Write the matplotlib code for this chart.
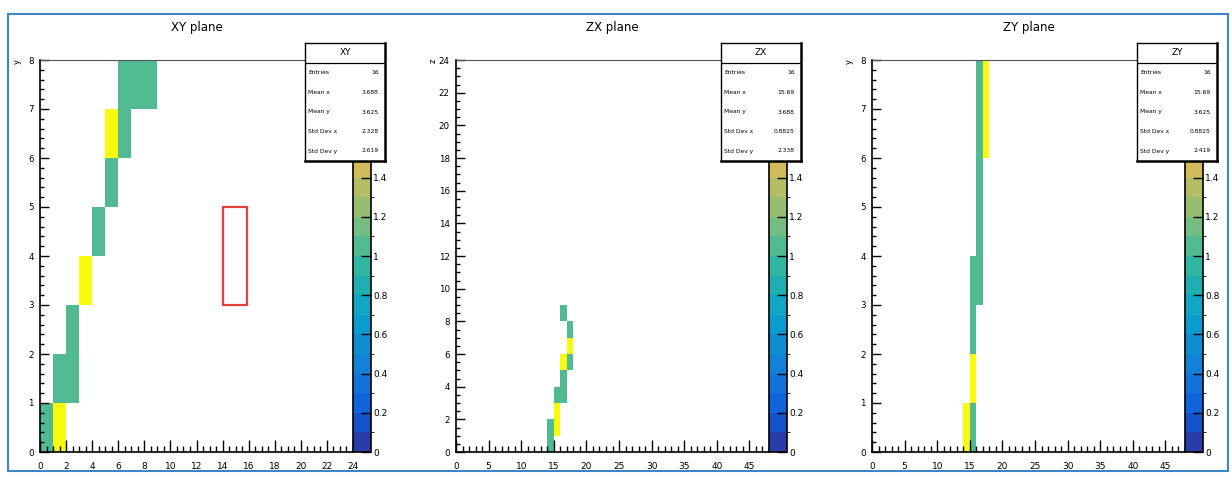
import numpy as np
import matplotlib.pyplot as plt
from matplotlib.colors import ListedColormap, BoundaryNorm, LinearSegmentedColormap
from matplotlib.ticker import MultipleLocator, FuncFormatter
from matplotlib.patches import Rectangle

plt.rcParams['font.family'] = ['DejaVu Sans']

W, H = 1232, 478

# hits per plane: lower bin edge and counts
xy_x = [0, 1, 1, 2, 2, 3, 4, 5, 5, 6, 6, 7, 8]
xy_y = [0, 0, 1, 1, 2, 3, 4, 5, 6, 6, 7, 7, 7]
xy_w = [1, 2, 1, 1, 1, 2, 1, 1, 2, 1, 1, 1, 1]

zx_x = [14, 14, 15, 15, 15, 16, 16, 16, 17, 17, 17, 16]
zx_y = [0, 1, 1, 2, 3, 3, 4, 5, 5, 6, 7, 8]
zx_w = [1, 1, 2, 2, 1, 1, 1, 2, 1, 2, 1, 1]

zy_x = [14, 15, 15, 15, 15, 16, 16, 16, 16, 16, 17, 17]
zy_y = [0, 0, 1, 2, 3, 3, 4, 5, 6, 7, 6, 7]
zy_w = [2, 1, 2, 1, 1, 1, 1, 1, 1, 1, 2, 2]

stat_names = ["Entries", "Mean x", "Mean y", "Std Dev x", "Std Dev y"]
xy_stats = ["16", "3.688", "3.625", "2.328", "2.619"]
zx_stats = ["16", "15.69", "3.688", "0.8825", "2.338"]
zy_stats = ["16", "15.69", "3.625", "0.8825", "2.419"]

# red marker box in XY plane (x, y, w, h)
xy_box = (14, 3, 1.9, 2)

# ROOT kBird palette
bird_stops = [0.0, 0.125, 0.25, 0.375, 0.5, 0.625, 0.75, 0.875, 1.0]
bird_r = [0.2082, 0.0592, 0.0780, 0.0232, 0.1802, 0.5301, 0.8186, 0.9956, 0.9764]
bird_g = [0.1664, 0.3599, 0.5041, 0.6419, 0.7178, 0.7492, 0.7328, 0.7862, 0.9832]
bird_b = [0.5293, 0.8684, 0.8385, 0.7914, 0.6425, 0.4662, 0.3499, 0.1968, 0.0539]
bird = LinearSegmentedColormap.from_list(
    "bird", list(zip(bird_stops, zip(bird_r, bird_g, bird_b))))
nlev = 20
levels = np.linspace(0, 2, nlev + 1)
cmap = ListedColormap([bird((i + 1) / nlev) for i in range(nlev)])
cmap.set_over(bird(1.0))
norm = BoundaryNorm(levels, nlev)

panels = [
    dict(title="XY plane", name="XY", x=xy_x, y=xy_y, w=xy_w, stats=xy_stats,
         xr=(0, 24), yr=(0, 8), xmaj=2, xmin=0.5, ymaj=1, ymin=0.2, ylab="y", left=40),
    dict(title="ZX plane", name="ZX", x=zx_x, y=zx_y, w=zx_w, stats=zx_stats,
         xr=(0, 48), yr=(0, 24), xmaj=5, xmin=1, ymaj=2, ymin=0.5, ylab="z", left=456),
    dict(title="ZY plane", name="ZY", x=zy_x, y=zy_y, w=zy_w, stats=zy_stats,
         xr=(0, 48), yr=(0, 8), xmaj=5, xmin=1, ymaj=1, ymin=0.2, ylab="y", left=872),
]


def rect(x0, y0, w, h):
    return [x0 / W, 1 - (y0 + h) / H, w / W, h / H]


fig = plt.figure(figsize=(W / 100, H / 100), dpi=100)

top, bot = 60, 452
for p in panels:
    L = p["left"]
    ax = fig.add_axes(rect(L, top, 313, bot - top))
    xe = np.arange(p["xr"][0], p["xr"][1] + 1)
    ye = np.arange(p["yr"][0], p["yr"][1] + 1)
    h2, _, _ = np.histogram2d(np.array(p["x"]) + 0.5, np.array(p["y"]) + 0.5,
                              bins=[xe, ye], weights=p["w"])
    mesh = ax.pcolormesh(xe, ye, np.ma.masked_equal(h2.T, 0), cmap=cmap, norm=norm)
    ax.set_xlim(*p["xr"])
    ax.set_ylim(*p["yr"])
    ax.xaxis.set_major_locator(MultipleLocator(p["xmaj"]))
    ax.xaxis.set_minor_locator(MultipleLocator(p["xmin"]))
    ax.yaxis.set_major_locator(MultipleLocator(p["ymaj"]))
    ax.yaxis.set_minor_locator(MultipleLocator(p["ymin"]))
    ax.tick_params(axis="x", which="major", direction="in", length=8.6, width=1.0,
                   labelsize=6.5, pad=7)
    ax.tick_params(axis="x", which="minor", direction="in", length=4.3, width=1.0)
    ax.tick_params(axis="y", which="major", direction="in", length=6.5, width=1.0,
                   labelsize=6.3, pad=4.5)
    ax.tick_params(axis="y", which="minor", direction="in", length=3.2, width=1.0)
    for s in ax.spines.values():
        s.set_linewidth(0.8)
    ax.spines["left"].set_linewidth(1.2)
    ax.spines["bottom"].set_linewidth(1.2)
    ax.spines["top"].set_color("#555555")

    if p["name"] == "XY":
        ax.add_patch(Rectangle(xy_box[:2], xy_box[2], xy_box[3], fill=False,
                               edgecolor="#e8403c", lw=1.6, zorder=5))

    fig.text((L + 313 / 2) / W, 1 - 27 / H, p["title"], ha="center", va="center",
             fontsize=8.5)
    fig.text((L - 23) / W, 1 - 61 / H, p["ylab"], rotation=90, ha="center",
             va="center", fontsize=6)

    cax = fig.add_axes(rect(L + 313, top, 18, bot - top))
    cb = fig.colorbar(mesh, cax=cax, ticks=np.arange(0, 2.01, 0.2),
                      format=FuncFormatter(lambda v, pos: f"{v:.1f}".rstrip("0").rstrip(".")))
    cb.ax.tick_params(direction="in", length=7, width=1.0, labelsize=6.5, pad=1.5)
    cb.outline.set_linewidth(1.2)

    # stats box
    sx = L + 265
    sax = fig.add_axes(rect(sx, 43, 80, 118), zorder=10)
    sax.set_xticks([])
    sax.set_yticks([])
    sax.set_xlim(0, 1)
    sax.set_ylim(0, 1)
    sax.set_facecolor("white")
    for k, s in sax.spines.items():
        s.set_linewidth(1.8 if k in ("right", "bottom") else 1.0)
    sax.axhline(1 - 19.7 / 118, color="black", lw=0.9)
    sax.text(0.5, 1 - 9.5 / 118, p["name"], ha="center", va="center", fontsize=6.5)
    for i, (nm, val) in enumerate(zip(stat_names, p["stats"])):
        yy = 1 - (30 + 19.5 * i) / 118
        sax.text(0.04, yy, nm, ha="left", va="center", fontsize=4.3)
        sax.text(0.92, yy, val, ha="right", va="center", fontsize=4.3)

# outer frame
fig.patches.append(Rectangle((8 / W, 1 - 471 / H), 1220 / W, 457 / H,
                             transform=fig.transFigure, fill=False,
                             edgecolor="#3d85c6", lw=1.5))

fig.savefig("out.png", dpi=100)
